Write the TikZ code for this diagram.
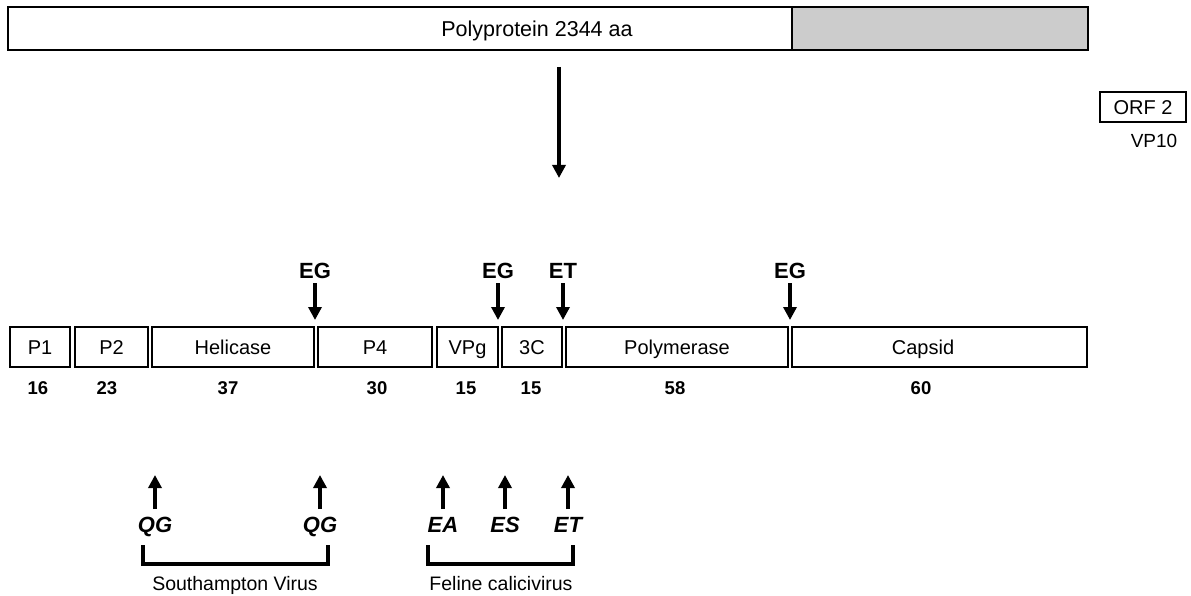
\documentclass[tikz,border=0pt]{standalone}
\usepackage{fontspec}
\setmainfont{Liberation Sans}
\usetikzlibrary{arrows.meta}
\begin{document}
\begin{tikzpicture}[x=1pt,y=-1pt,
  seg/.style={draw,line width=2.5pt,minimum height=40pt,inner sep=0pt,text height=14.3pt,text depth=0pt,font=\fontsize{20}{22}\selectfont},
  txt/.style={inner sep=0pt,text height=14.3pt,text depth=0pt,font=\fontsize{20}{22}\selectfont},
  num/.style={inner sep=0pt,text height=13.2pt,text depth=0pt,font=\bfseries\fontsize{18.5}{20}\selectfont},
  site/.style={inner sep=0pt,text height=15.7pt,text depth=0pt,font=\bfseries\fontsize{22}{24}\selectfont},
  isite/.style={inner sep=0pt,text height=15.7pt,text depth=0pt,font=\bfseries\itshape\fontsize{22}{24}\selectfont},
  arr/.style={line width=3.5pt,-{Triangle[width=13pt,length=13pt]}},
  brk/.style={line width=3.5pt}]
\useasboundingbox (0,0) rectangle (1191,596);
% top polyprotein bar
\node[seg,minimum width=784pt,minimum height=43pt] (ptop) at (400,28.5) {};
\node[seg,minimum width=296pt,minimum height=43pt,fill=black!20] (ptopgray) at (940,28.5) {};
\node[txt,text height=15.4pt,font=\fontsize{21.5}{24}\selectfont] (ptoplbl) at (537,28.5) {Polyprotein 2344 aa};
% ORF 2
\node[seg,minimum width=86pt,minimum height=30pt] (orf2) at (1143,107) {ORF 2};
\node[txt,text height=13.6pt,font=\fontsize{19}{22}\selectfont] (vp10) at (1154,141) {VP10};
% big arrow
\coordinate (bigtop) at (559,67);
\coordinate (bigtip) at (559,178);
\draw[arr] (bigtop) -- (bigtip);
% segments
\node[seg,minimum width=60pt] (p1) at (40,347) {P1};
\node[seg,minimum width=73pt] (p2) at (111.5,347) {P2};
\node[seg,minimum width=162pt] (hel) at (233,347) {Helicase};
\node[seg,minimum width=114pt] (p4) at (375,347) {P4};
\node[seg,minimum width=61pt] (vpg) at (467.5,347) {VPg};
\node[seg,minimum width=60pt] (c3) at (532,347) {3C};
\node[seg,minimum width=222pt] (pol) at (677,347) {Polymerase};
\node[seg,minimum width=295pt] (cap) at (939.5,347) {};
\node[txt] (caplbl) at (923,347) {Capsid};
% sizes
\node[num] (n1) at (38,388) {16};
\node[num] (n2) at (107,388) {23};
\node[num] (n3) at (228,388) {37};
\node[num] (n4) at (377,388) {30};
\node[num] (n5) at (466,388) {15};
\node[num] (n6) at (531,388) {15};
\node[num] (n7) at (675,388) {58};
\node[num] (n8) at (921,388) {60};
% cleavage sites above
\foreach \x/\t/\n in {315/EG/a,498/EG/b,563/ET/c,790/EG/d}{
  \node[site] (s\n) at (\x,271) {\t};
  \coordinate (st\n) at (\x,283);
  \coordinate (sh\n) at (\x,320);
  \draw[arr] (st\n) -- (sh\n);
}
% cleavage sites below
\foreach \x/\t/\n in {155/QG/a,320/QG/b,443/EA/c,505/ES/d,568/ET/e}{
  \coordinate (ub\n) at (\x,509);
  \coordinate (ut\n) at (\x,475);
  \draw[arr] (ub\n) -- (ut\n);
  \node[isite] (u\n) at (\x,525) {\t};
}
% brackets
\coordinate (b1a) at (143,545); \coordinate (b1b) at (143,564);
\coordinate (b1c) at (328,564); \coordinate (b1d) at (328,545);
\draw[brk] (b1a) -- (b1b) -- (b1c) -- (b1d);
\coordinate (b2a) at (428,545); \coordinate (b2b) at (428,564);
\coordinate (b2c) at (573,564); \coordinate (b2d) at (573,545);
\draw[brk] (b2a) -- (b2b) -- (b2c) -- (b2d);
\node[txt,text height=14pt,font=\fontsize{19.5}{22}\selectfont] (sv) at (235,583) {Southampton Virus};
\node[txt,text height=14pt,font=\fontsize{19.5}{22}\selectfont] (fc) at (501,583) {Feline calicivirus};
\end{tikzpicture}
\end{document}
